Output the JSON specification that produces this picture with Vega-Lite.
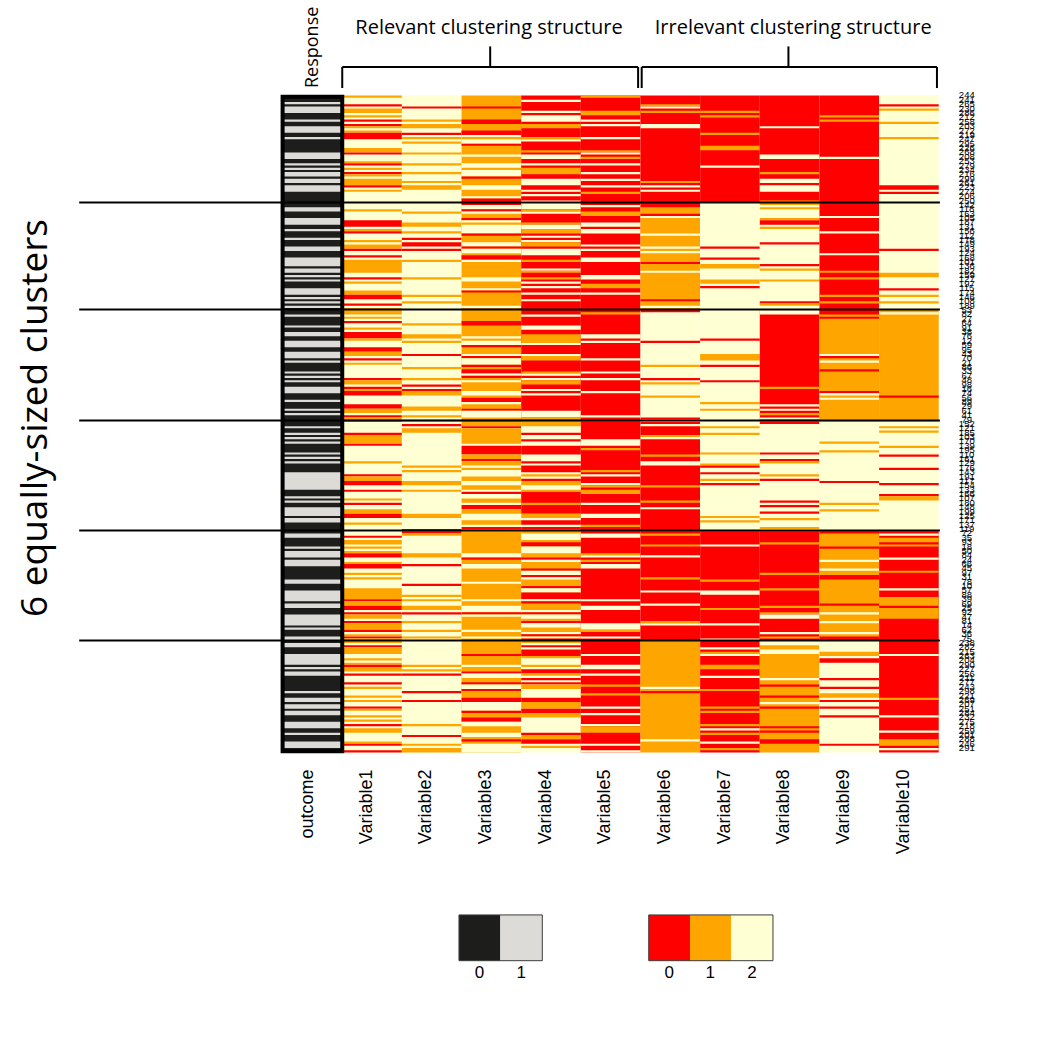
{"$schema":"https://vega.github.io/schema/vega-lite/v6.json","width":1038,"height":1038,"padding":0,"autosize":{"type":"fit","contains":"padding"},"background":"white","config":{"view":{"stroke":null}},
"datasets":{
"cells":[
{"c":0,"d":1,"a":0,"b":300,"k":"a0"},
{"c":0,"d":1,"a":3,"b":4,"k":"a1"},{"c":0,"d":1,"a":5,"b":8,"k":"a1"},{"c":0,"d":1,"a":11,"b":12,"k":"a1"},{"c":0,"d":1,"a":14,"b":17,"k":"a1"},{"c":0,"d":1,"a":19,"b":20,"k":"a1"},{"c":0,"d":1,"a":26,"b":29,"k":"a1"},{"c":0,"d":1,"a":31,"b":32,"k":"a1"},{"c":0,"d":1,"a":33,"b":34,"k":"a1"},{"c":0,"d":1,"a":35,"b":37,"k":"a1"},{"c":0,"d":1,"a":38,"b":40,"k":"a1"},{"c":0,"d":1,"a":41,"b":44,"k":"a1"},
{"c":0,"d":1,"a":51,"b":53,"k":"a1"},{"c":0,"d":1,"a":56,"b":59,"k":"a1"},{"c":0,"d":1,"a":61,"b":62,"k":"a1"},{"c":0,"d":1,"a":65,"b":66,"k":"a1"},{"c":0,"d":1,"a":69,"b":71,"k":"a1"},{"c":0,"d":1,"a":74,"b":78,"k":"a1"},{"c":0,"d":1,"a":79,"b":81,"k":"a1"},{"c":0,"d":1,"a":82,"b":83,"k":"a1"},{"c":0,"d":1,"a":84,"b":85,"k":"a1"},{"c":0,"d":1,"a":88,"b":91,"k":"a1"},{"c":0,"d":1,"a":92,"b":93,"k":"a1"},{"c":0,"d":1,"a":94,"b":95,"k":"a1"},{"c":0,"d":1,"a":96,"b":97,"k":"a1"},
{"c":0,"d":1,"a":100,"b":101,"k":"a1"},{"c":0,"d":1,"a":105,"b":106,"k":"a1"},{"c":0,"d":1,"a":108,"b":110,"k":"a1"},{"c":0,"d":1,"a":112,"b":115,"k":"a1"},{"c":0,"d":1,"a":117,"b":119,"k":"a1"},{"c":0,"d":1,"a":119,"b":120,"k":"a1"},{"c":0,"d":1,"a":121,"b":122,"k":"a1"},{"c":0,"d":1,"a":126,"b":127,"k":"a1"},{"c":0,"d":1,"a":128,"b":129,"k":"a1"},{"c":0,"d":1,"a":130,"b":131,"k":"a1"},{"c":0,"d":1,"a":133,"b":136,"k":"a1"},{"c":0,"d":1,"a":139,"b":140,"k":"a1"},{"c":0,"d":1,"a":143,"b":144,"k":"a1"},{"c":0,"d":1,"a":145,"b":146,"k":"a1"},
{"c":0,"d":1,"a":151,"b":152,"k":"a1"},{"c":0,"d":1,"a":154,"b":155,"k":"a1"},{"c":0,"d":1,"a":156,"b":157,"k":"a1"},{"c":0,"d":1,"a":158,"b":159,"k":"a1"},{"c":0,"d":1,"a":163,"b":164,"k":"a1"},{"c":0,"d":1,"a":165,"b":166,"k":"a1"},{"c":0,"d":1,"a":167,"b":168,"k":"a1"},{"c":0,"d":1,"a":172,"b":180,"k":"a1"},{"c":0,"d":1,"a":183,"b":184,"k":"a1"},{"c":0,"d":1,"a":185,"b":186,"k":"a1"},{"c":0,"d":1,"a":188,"b":192,"k":"a1"},{"c":0,"d":1,"a":193,"b":195,"k":"a1"},
{"c":0,"d":1,"a":200,"b":202,"k":"a1"},{"c":0,"d":1,"a":206,"b":207,"k":"a1"},{"c":0,"d":1,"a":208,"b":211,"k":"a1"},{"c":0,"d":1,"a":212,"b":215,"k":"a1"},{"c":0,"d":1,"a":221,"b":223,"k":"a1"},{"c":0,"d":1,"a":226,"b":231,"k":"a1"},{"c":0,"d":1,"a":232,"b":234,"k":"a1"},{"c":0,"d":1,"a":237,"b":242,"k":"a1"},{"c":0,"d":1,"a":243,"b":244,"k":"a1"},{"c":0,"d":1,"a":247,"b":249,"k":"a1"},
{"c":0,"d":1,"a":250,"b":252,"k":"a1"},{"c":0,"d":1,"a":255,"b":260,"k":"a1"},{"c":0,"d":1,"a":261,"b":262,"k":"a1"},{"c":0,"d":1,"a":263,"b":265,"k":"a1"},{"c":0,"d":1,"a":272,"b":273,"k":"a1"},{"c":0,"d":1,"a":275,"b":277,"k":"a1"},{"c":0,"d":1,"a":278,"b":280,"k":"a1"},{"c":0,"d":1,"a":281,"b":283,"k":"a1"},{"c":0,"d":1,"a":286,"b":289,"k":"a1"},{"c":0,"d":1,"a":291,"b":292,"k":"a1"},{"c":0,"d":1,"a":295,"b":298,"k":"a1"},

{"c":1,"d":2,"a":0,"b":49,"k":"2"},{"c":1,"d":2,"a":0,"b":1,"k":"1"},{"c":1,"d":2,"a":4,"b":5,"k":"0"},{"c":1,"d":2,"a":6,"b":8,"k":"1"},{"c":1,"d":2,"a":9,"b":10,"k":"1"},{"c":1,"d":2,"a":11,"b":12,"k":"0"},{"c":1,"d":2,"a":13,"b":14,"k":"0"},{"c":1,"d":2,"a":14,"b":15,"k":"1"},{"c":1,"d":2,"a":16,"b":17,"k":"1"},{"c":1,"d":2,"a":17,"b":20,"k":"0"},{"c":1,"d":2,"a":24,"b":26,"k":"1"},{"c":1,"d":2,"a":26,"b":27,"k":"0"},{"c":1,"d":2,"a":30,"b":31,"k":"1"},{"c":1,"d":2,"a":31,"b":32,"k":"0"},{"c":1,"d":2,"a":33,"b":34,"k":"1"},{"c":1,"d":2,"a":35,"b":36,"k":"0"},{"c":1,"d":2,"a":36,"b":37,"k":"1"},{"c":1,"d":2,"a":38,"b":41,"k":"1"},{"c":1,"d":2,"a":41,"b":42,"k":"0"},{"c":1,"d":2,"a":43,"b":44,"k":"1"},
{"c":2,"d":3,"a":0,"b":49,"k":"2"},{"c":2,"d":3,"a":5,"b":6,"k":"0"},{"c":2,"d":3,"a":11,"b":12,"k":"1"},{"c":2,"d":3,"a":13,"b":15,"k":"1"},{"c":2,"d":3,"a":17,"b":18,"k":"0"},{"c":2,"d":3,"a":19,"b":20,"k":"1"},{"c":2,"d":3,"a":21,"b":22,"k":"1"},{"c":2,"d":3,"a":26,"b":27,"k":"1"},{"c":2,"d":3,"a":31,"b":32,"k":"1"},{"c":2,"d":3,"a":35,"b":36,"k":"1"},{"c":2,"d":3,"a":39,"b":40,"k":"1"},{"c":2,"d":3,"a":41,"b":43,"k":"1"},
{"c":3,"d":4,"a":0,"b":49,"k":"1"},{"c":3,"d":4,"a":5,"b":6,"k":"0"},{"c":3,"d":4,"a":11,"b":13,"k":"0"},{"c":3,"d":4,"a":16,"b":18,"k":"0"},{"c":3,"d":4,"a":18,"b":19,"k":"2"},{"c":3,"d":4,"a":20,"b":22,"k":"2"},{"c":3,"d":4,"a":22,"b":23,"k":"0"},{"c":3,"d":4,"a":27,"b":28,"k":"2"},{"c":3,"d":4,"a":31,"b":33,"k":"2"},{"c":3,"d":4,"a":34,"b":37,"k":"2"},{"c":3,"d":4,"a":37,"b":38,"k":"0"},{"c":3,"d":4,"a":41,"b":43,"k":"2"},{"c":3,"d":4,"a":46,"b":47,"k":"2"},{"c":3,"d":4,"a":47,"b":49,"k":"0"},
{"c":4,"d":5,"a":0,"b":49,"k":"0"},{"c":4,"d":5,"a":2,"b":3,"k":"2"},{"c":4,"d":5,"a":7,"b":8,"k":"2"},{"c":4,"d":5,"a":9,"b":12,"k":"2"},{"c":4,"d":5,"a":13,"b":15,"k":"1"},{"c":4,"d":5,"a":19,"b":20,"k":"1"},{"c":4,"d":5,"a":20,"b":21,"k":"2"},{"c":4,"d":5,"a":25,"b":26,"k":"1"},{"c":4,"d":5,"a":27,"b":29,"k":"2"},{"c":4,"d":5,"a":31,"b":32,"k":"2"},{"c":4,"d":5,"a":33,"b":36,"k":"1"},{"c":4,"d":5,"a":38,"b":41,"k":"2"},{"c":4,"d":5,"a":43,"b":44,"k":"2"},{"c":4,"d":5,"a":45,"b":46,"k":"2"},{"c":4,"d":5,"a":48,"b":49,"k":"2"},
{"c":5,"d":6,"a":0,"b":49,"k":"0"},{"c":5,"d":6,"a":0,"b":1,"k":"1"},{"c":5,"d":6,"a":7,"b":9,"k":"1"},{"c":5,"d":6,"a":11,"b":12,"k":"2"},{"c":5,"d":6,"a":13,"b":14,"k":"2"},{"c":5,"d":6,"a":19,"b":20,"k":"2"},{"c":5,"d":6,"a":25,"b":26,"k":"1"},{"c":5,"d":6,"a":26,"b":27,"k":"2"},{"c":5,"d":6,"a":28,"b":29,"k":"1"},{"c":5,"d":6,"a":31,"b":32,"k":"2"},{"c":5,"d":6,"a":35,"b":36,"k":"2"},{"c":5,"d":6,"a":38,"b":39,"k":"2"},{"c":5,"d":6,"a":41,"b":42,"k":"2"},{"c":5,"d":6,"a":44,"b":45,"k":"1"},
{"c":6,"d":7,"a":0,"b":49,"k":"0"},{"c":6,"d":7,"a":4,"b":5,"k":"1"},{"c":6,"d":7,"a":5,"b":6,"k":"2"},{"c":6,"d":7,"a":7,"b":8,"k":"1"},{"c":6,"d":7,"a":13,"b":15,"k":"2"},{"c":6,"d":7,"a":39,"b":40,"k":"1"},{"c":6,"d":7,"a":41,"b":42,"k":"2"},{"c":6,"d":7,"a":43,"b":44,"k":"2"},
{"c":7,"d":8,"a":0,"b":49,"k":"0"},{"c":7,"d":8,"a":7,"b":8,"k":"1"},{"c":7,"d":8,"a":9,"b":10,"k":"1"},{"c":7,"d":8,"a":17,"b":18,"k":"1"},{"c":7,"d":8,"a":23,"b":25,"k":"1"},{"c":7,"d":8,"a":32,"b":33,"k":"2"},
{"c":8,"d":9,"a":0,"b":49,"k":"0"},{"c":8,"d":9,"a":14,"b":15,"k":"2"},{"c":8,"d":9,"a":27,"b":29,"k":"2"},{"c":8,"d":9,"a":35,"b":36,"k":"1"},{"c":8,"d":9,"a":38,"b":40,"k":"2"},{"c":8,"d":9,"a":41,"b":44,"k":"2"},{"c":8,"d":9,"a":48,"b":49,"k":"1"},
{"c":9,"d":10,"a":0,"b":49,"k":"0"},{"c":9,"d":10,"a":9,"b":10,"k":"1"},{"c":9,"d":10,"a":11,"b":12,"k":"1"},{"c":9,"d":10,"a":28,"b":29,"k":"2"},
{"c":10,"d":11,"a":0,"b":49,"k":"2"},{"c":10,"d":11,"a":4,"b":5,"k":"0"},{"c":10,"d":11,"a":6,"b":7,"k":"1"},{"c":10,"d":11,"a":12,"b":13,"k":"1"},{"c":10,"d":11,"a":19,"b":20,"k":"1"},{"c":10,"d":11,"a":41,"b":43,"k":"0"},{"c":10,"d":11,"a":44,"b":45,"k":"0"},

{"c":1,"d":2,"a":49,"b":98,"k":"2"},{"c":1,"d":2,"a":52,"b":53,"k":"1"},{"c":1,"d":2,"a":57,"b":60,"k":"0"},{"c":1,"d":2,"a":61,"b":62,"k":"1"},{"c":1,"d":2,"a":62,"b":63,"k":"0"},{"c":1,"d":2,"a":66,"b":67,"k":"1"},{"c":1,"d":2,"a":68,"b":70,"k":"1"},{"c":1,"d":2,"a":70,"b":71,"k":"0"},{"c":1,"d":2,"a":73,"b":74,"k":"0"},{"c":1,"d":2,"a":75,"b":81,"k":"1"},{"c":1,"d":2,"a":83,"b":84,"k":"0"},{"c":1,"d":2,"a":85,"b":86,"k":"1"},{"c":1,"d":2,"a":89,"b":91,"k":"1"},{"c":1,"d":2,"a":91,"b":93,"k":"0"},{"c":1,"d":2,"a":95,"b":96,"k":"0"},{"c":1,"d":2,"a":97,"b":98,"k":"1"},
{"c":2,"d":3,"a":49,"b":98,"k":"2"},{"c":2,"d":3,"a":53,"b":54,"k":"1"},{"c":2,"d":3,"a":58,"b":60,"k":"1"},{"c":2,"d":3,"a":62,"b":63,"k":"1"},{"c":2,"d":3,"a":65,"b":66,"k":"0"},{"c":2,"d":3,"a":67,"b":69,"k":"0"},{"c":2,"d":3,"a":70,"b":71,"k":"0"},{"c":2,"d":3,"a":75,"b":76,"k":"1"},{"c":2,"d":3,"a":83,"b":84,"k":"1"},{"c":2,"d":3,"a":91,"b":92,"k":"1"},{"c":2,"d":3,"a":94,"b":95,"k":"1"},
{"c":3,"d":4,"a":49,"b":98,"k":"1"},{"c":3,"d":4,"a":49,"b":50,"k":"0"},{"c":3,"d":4,"a":50,"b":52,"k":"2"},{"c":3,"d":4,"a":52,"b":53,"k":"0"},{"c":3,"d":4,"a":53,"b":54,"k":"2"},{"c":3,"d":4,"a":56,"b":57,"k":"0"},{"c":3,"d":4,"a":57,"b":58,"k":"2"},{"c":3,"d":4,"a":59,"b":63,"k":"2"},{"c":3,"d":4,"a":63,"b":64,"k":"0"},{"c":3,"d":4,"a":67,"b":69,"k":"2"},{"c":3,"d":4,"a":69,"b":70,"k":"0"},{"c":3,"d":4,"a":70,"b":72,"k":"2"},{"c":3,"d":4,"a":73,"b":75,"k":"0"},{"c":3,"d":4,"a":75,"b":76,"k":"2"},{"c":3,"d":4,"a":83,"b":85,"k":"2"},{"c":3,"d":4,"a":88,"b":89,"k":"2"},{"c":3,"d":4,"a":89,"b":90,"k":"0"},{"c":3,"d":4,"a":96,"b":97,"k":"2"},
{"c":4,"d":5,"a":49,"b":98,"k":"0"},{"c":4,"d":5,"a":49,"b":52,"k":"2"},{"c":4,"d":5,"a":52,"b":53,"k":"1"},{"c":4,"d":5,"a":53,"b":54,"k":"2"},{"c":4,"d":5,"a":58,"b":59,"k":"1"},{"c":4,"d":5,"a":59,"b":61,"k":"2"},{"c":4,"d":5,"a":61,"b":63,"k":"1"},{"c":4,"d":5,"a":64,"b":65,"k":"2"},{"c":4,"d":5,"a":66,"b":67,"k":"2"},{"c":4,"d":5,"a":67,"b":69,"k":"1"},{"c":4,"d":5,"a":70,"b":73,"k":"2"},{"c":4,"d":5,"a":75,"b":76,"k":"1"},{"c":4,"d":5,"a":79,"b":80,"k":"2"},{"c":4,"d":5,"a":80,"b":81,"k":"1"},{"c":4,"d":5,"a":83,"b":84,"k":"1"},{"c":4,"d":5,"a":85,"b":86,"k":"2"},{"c":4,"d":5,"a":87,"b":88,"k":"2"},{"c":4,"d":5,"a":90,"b":91,"k":"2"},{"c":4,"d":5,"a":93,"b":94,"k":"2"},
{"c":5,"d":6,"a":49,"b":98,"k":"0"},{"c":5,"d":6,"a":50,"b":51,"k":"2"},{"c":5,"d":6,"a":53,"b":55,"k":"1"},{"c":5,"d":6,"a":58,"b":60,"k":"2"},{"c":5,"d":6,"a":61,"b":63,"k":"2"},{"c":5,"d":6,"a":68,"b":69,"k":"2"},{"c":5,"d":6,"a":70,"b":71,"k":"2"},{"c":5,"d":6,"a":74,"b":76,"k":"2"},{"c":5,"d":6,"a":82,"b":84,"k":"2"},{"c":5,"d":6,"a":86,"b":88,"k":"1"},{"c":5,"d":6,"a":90,"b":91,"k":"2"},
{"c":6,"d":7,"a":49,"b":98,"k":"1"},{"c":6,"d":7,"a":49,"b":51,"k":"0"},{"c":6,"d":7,"a":54,"b":55,"k":"0"},{"c":6,"d":7,"a":55,"b":56,"k":"2"},{"c":6,"d":7,"a":63,"b":64,"k":"2"},{"c":6,"d":7,"a":69,"b":70,"k":"2"},{"c":6,"d":7,"a":71,"b":72,"k":"2"},{"c":6,"d":7,"a":76,"b":77,"k":"0"},{"c":6,"d":7,"a":80,"b":81,"k":"2"},{"c":6,"d":7,"a":93,"b":94,"k":"0"},{"c":6,"d":7,"a":96,"b":97,"k":"2"},
{"c":7,"d":8,"a":49,"b":98,"k":"2"},{"c":7,"d":8,"a":69,"b":70,"k":"0"},{"c":7,"d":8,"a":74,"b":75,"k":"0"},{"c":7,"d":8,"a":77,"b":79,"k":"1"},{"c":7,"d":8,"a":84,"b":86,"k":"1"},{"c":7,"d":8,"a":87,"b":88,"k":"0"},
{"c":8,"d":9,"a":49,"b":98,"k":"2"},{"c":8,"d":9,"a":49,"b":50,"k":"1"},{"c":8,"d":9,"a":51,"b":52,"k":"1"},{"c":8,"d":9,"a":56,"b":57,"k":"1"},{"c":8,"d":9,"a":57,"b":59,"k":"0"},{"c":8,"d":9,"a":60,"b":61,"k":"1"},{"c":8,"d":9,"a":67,"b":68,"k":"0"},{"c":8,"d":9,"a":77,"b":78,"k":"0"},{"c":8,"d":9,"a":79,"b":80,"k":"1"},{"c":8,"d":9,"a":84,"b":85,"k":"1"},{"c":8,"d":9,"a":94,"b":95,"k":"0"},{"c":8,"d":9,"a":95,"b":96,"k":"1"},
{"c":9,"d":10,"a":49,"b":98,"k":"0"},{"c":9,"d":10,"a":55,"b":56,"k":"2"},{"c":9,"d":10,"a":62,"b":63,"k":"2"},{"c":9,"d":10,"a":72,"b":73,"k":"2"},{"c":9,"d":10,"a":80,"b":81,"k":"1"},{"c":9,"d":10,"a":83,"b":84,"k":"1"},{"c":9,"d":10,"a":91,"b":92,"k":"1"},{"c":9,"d":10,"a":94,"b":95,"k":"1"},
{"c":10,"d":11,"a":49,"b":98,"k":"2"},{"c":10,"d":11,"a":70,"b":71,"k":"0"},{"c":10,"d":11,"a":81,"b":83,"k":"1"},{"c":10,"d":11,"a":88,"b":89,"k":"0"},{"c":10,"d":11,"a":91,"b":92,"k":"1"},{"c":10,"d":11,"a":94,"b":95,"k":"1"},

{"c":1,"d":2,"a":98,"b":149,"k":"2"},{"c":1,"d":2,"a":98,"b":100,"k":"1"},{"c":1,"d":2,"a":101,"b":102,"k":"1"},{"c":1,"d":2,"a":103,"b":104,"k":"0"},{"c":1,"d":2,"a":106,"b":107,"k":"1"},{"c":1,"d":2,"a":108,"b":111,"k":"0"},{"c":1,"d":2,"a":111,"b":112,"k":"1"},{"c":1,"d":2,"a":115,"b":117,"k":"0"},{"c":1,"d":2,"a":117,"b":119,"k":"1"},{"c":1,"d":2,"a":120,"b":121,"k":"0"},{"c":1,"d":2,"a":122,"b":123,"k":"1"},{"c":1,"d":2,"a":129,"b":130,"k":"0"},{"c":1,"d":2,"a":130,"b":132,"k":"1"},{"c":1,"d":2,"a":133,"b":134,"k":"0"},{"c":1,"d":2,"a":134,"b":135,"k":"1"},{"c":1,"d":2,"a":135,"b":137,"k":"0"},{"c":1,"d":2,"a":141,"b":143,"k":"0"},{"c":1,"d":2,"a":143,"b":145,"k":"1"},{"c":1,"d":2,"a":146,"b":147,"k":"0"},{"c":1,"d":2,"a":147,"b":148,"k":"1"},{"c":1,"d":2,"a":148,"b":149,"k":"0"},
{"c":2,"d":3,"a":98,"b":149,"k":"2"},{"c":2,"d":3,"a":104,"b":105,"k":"1"},{"c":2,"d":3,"a":109,"b":111,"k":"1"},{"c":2,"d":3,"a":112,"b":113,"k":"1"},{"c":2,"d":3,"a":118,"b":119,"k":"0"},{"c":2,"d":3,"a":124,"b":125,"k":"1"},{"c":2,"d":3,"a":129,"b":130,"k":"1"},{"c":2,"d":3,"a":132,"b":133,"k":"0"},{"c":2,"d":3,"a":134,"b":135,"k":"0"},{"c":2,"d":3,"a":135,"b":137,"k":"1"},{"c":2,"d":3,"a":142,"b":144,"k":"1"},{"c":2,"d":3,"a":146,"b":147,"k":"1"},{"c":2,"d":3,"a":148,"b":149,"k":"1"},
{"c":3,"d":4,"a":98,"b":149,"k":"1"},{"c":3,"d":4,"a":103,"b":105,"k":"0"},{"c":3,"d":4,"a":110,"b":111,"k":"2"},{"c":3,"d":4,"a":112,"b":114,"k":"2"},{"c":3,"d":4,"a":114,"b":115,"k":"0"},{"c":3,"d":4,"a":118,"b":119,"k":"2"},{"c":3,"d":4,"a":119,"b":120,"k":"0"},{"c":3,"d":4,"a":120,"b":123,"k":"2"},{"c":3,"d":4,"a":123,"b":124,"k":"0"},{"c":3,"d":4,"a":125,"b":127,"k":"0"},{"c":3,"d":4,"a":127,"b":128,"k":"2"},{"c":3,"d":4,"a":128,"b":129,"k":"0"},{"c":3,"d":4,"a":130,"b":131,"k":"2"},{"c":3,"d":4,"a":135,"b":137,"k":"2"},{"c":3,"d":4,"a":138,"b":140,"k":"0"},{"c":3,"d":4,"a":140,"b":141,"k":"2"},{"c":3,"d":4,"a":143,"b":144,"k":"0"},{"c":3,"d":4,"a":144,"b":147,"k":"2"},{"c":3,"d":4,"a":148,"b":149,"k":"0"},
{"c":4,"d":5,"a":98,"b":149,"k":"0"},{"c":4,"d":5,"a":100,"b":101,"k":"2"},{"c":4,"d":5,"a":105,"b":107,"k":"2"},{"c":4,"d":5,"a":109,"b":113,"k":"1"},{"c":4,"d":5,"a":113,"b":114,"k":"2"},{"c":4,"d":5,"a":118,"b":119,"k":"2"},{"c":4,"d":5,"a":119,"b":121,"k":"1"},{"c":4,"d":5,"a":126,"b":127,"k":"1"},{"c":4,"d":5,"a":127,"b":128,"k":"2"},{"c":4,"d":5,"a":129,"b":130,"k":"2"},{"c":4,"d":5,"a":130,"b":132,"k":"1"},{"c":4,"d":5,"a":134,"b":135,"k":"2"},{"c":4,"d":5,"a":136,"b":137,"k":"2"},{"c":4,"d":5,"a":144,"b":147,"k":"2"},{"c":4,"d":5,"a":147,"b":148,"k":"1"},
{"c":5,"d":6,"a":98,"b":149,"k":"0"},{"c":5,"d":6,"a":99,"b":100,"k":"1"},{"c":5,"d":6,"a":109,"b":111,"k":"2"},{"c":5,"d":6,"a":112,"b":113,"k":"2"},{"c":5,"d":6,"a":120,"b":121,"k":"2"},{"c":5,"d":6,"a":126,"b":127,"k":"2"},{"c":5,"d":6,"a":129,"b":130,"k":"2"},{"c":5,"d":6,"a":135,"b":136,"k":"2"},{"c":5,"d":6,"a":146,"b":147,"k":"2"},
{"c":6,"d":7,"a":98,"b":149,"k":"2"},{"c":6,"d":7,"a":98,"b":99,"k":"0"},{"c":6,"d":7,"a":112,"b":113,"k":"0"},{"c":6,"d":7,"a":123,"b":124,"k":"1"},{"c":6,"d":7,"a":129,"b":130,"k":"0"},{"c":6,"d":7,"a":131,"b":132,"k":"1"},{"c":6,"d":7,"a":137,"b":138,"k":"1"},{"c":6,"d":7,"a":147,"b":148,"k":"0"},
{"c":7,"d":8,"a":98,"b":149,"k":"2"},{"c":7,"d":8,"a":111,"b":112,"k":"0"},{"c":7,"d":8,"a":118,"b":121,"k":"1"},{"c":7,"d":8,"a":123,"b":124,"k":"0"},{"c":7,"d":8,"a":130,"b":131,"k":"0"},{"c":7,"d":8,"a":140,"b":141,"k":"1"},{"c":7,"d":8,"a":143,"b":144,"k":"1"},
{"c":8,"d":9,"a":98,"b":149,"k":"0"},{"c":8,"d":9,"a":98,"b":100,"k":"2"},{"c":8,"d":9,"a":133,"b":134,"k":"1"},{"c":8,"d":9,"a":141,"b":142,"k":"2"},{"c":8,"d":9,"a":143,"b":144,"k":"2"},{"c":8,"d":9,"a":145,"b":146,"k":"1"},{"c":8,"d":9,"a":147,"b":148,"k":"2"},
{"c":9,"d":10,"a":98,"b":149,"k":"1"},{"c":9,"d":10,"a":98,"b":100,"k":"0"},{"c":9,"d":10,"a":101,"b":102,"k":"0"},{"c":9,"d":10,"a":118,"b":119,"k":"2"},{"c":9,"d":10,"a":119,"b":120,"k":"0"},{"c":9,"d":10,"a":121,"b":122,"k":"2"},{"c":9,"d":10,"a":125,"b":126,"k":"0"},{"c":9,"d":10,"a":135,"b":136,"k":"0"},{"c":9,"d":10,"a":136,"b":137,"k":"2"},{"c":9,"d":10,"a":138,"b":139,"k":"2"},
{"c":10,"d":11,"a":98,"b":149,"k":"1"},{"c":10,"d":11,"a":99,"b":100,"k":"2"},{"c":10,"d":11,"a":137,"b":138,"k":"0"},

{"c":1,"d":2,"a":149,"b":199,"k":"2"},{"c":1,"d":2,"a":154,"b":155,"k":"0"},{"c":1,"d":2,"a":155,"b":159,"k":"1"},{"c":1,"d":2,"a":159,"b":160,"k":"0"},{"c":1,"d":2,"a":167,"b":168,"k":"1"},{"c":1,"d":2,"a":173,"b":174,"k":"0"},{"c":1,"d":2,"a":174,"b":176,"k":"1"},{"c":1,"d":2,"a":176,"b":178,"k":"0"},{"c":1,"d":2,"a":180,"b":181,"k":"0"},{"c":1,"d":2,"a":184,"b":185,"k":"1"},{"c":1,"d":2,"a":186,"b":187,"k":"0"},{"c":1,"d":2,"a":189,"b":191,"k":"1"},{"c":1,"d":2,"a":191,"b":193,"k":"0"},{"c":1,"d":2,"a":195,"b":196,"k":"1"},
{"c":2,"d":3,"a":149,"b":199,"k":"2"},{"c":2,"d":3,"a":150,"b":151,"k":"0"},{"c":2,"d":3,"a":152,"b":154,"k":"1"},{"c":2,"d":3,"a":169,"b":170,"k":"1"},{"c":2,"d":3,"a":171,"b":172,"k":"1"},{"c":2,"d":3,"a":176,"b":178,"k":"1"},{"c":2,"d":3,"a":180,"b":181,"k":"1"},{"c":2,"d":3,"a":191,"b":193,"k":"1"},{"c":2,"d":3,"a":198,"b":199,"k":"0"},
{"c":3,"d":4,"a":149,"b":199,"k":"2"},{"c":3,"d":4,"a":149,"b":151,"k":"1"},{"c":3,"d":4,"a":151,"b":152,"k":"0"},{"c":3,"d":4,"a":152,"b":159,"k":"1"},{"c":3,"d":4,"a":160,"b":164,"k":"0"},{"c":3,"d":4,"a":164,"b":166,"k":"1"},{"c":3,"d":4,"a":166,"b":167,"k":"0"},{"c":3,"d":4,"a":167,"b":169,"k":"1"},{"c":3,"d":4,"a":170,"b":171,"k":"1"},{"c":3,"d":4,"a":174,"b":176,"k":"1"},{"c":3,"d":4,"a":178,"b":180,"k":"1"},{"c":3,"d":4,"a":181,"b":182,"k":"0"},{"c":3,"d":4,"a":184,"b":186,"k":"1"},{"c":3,"d":4,"a":187,"b":189,"k":"0"},{"c":3,"d":4,"a":189,"b":191,"k":"1"},{"c":3,"d":4,"a":194,"b":196,"k":"1"},{"c":3,"d":4,"a":197,"b":198,"k":"0"},{"c":3,"d":4,"a":198,"b":199,"k":"1"},
{"c":4,"d":5,"a":149,"b":199,"k":"2"},{"c":4,"d":5,"a":149,"b":151,"k":"1"},{"c":4,"d":5,"a":154,"b":155,"k":"0"},{"c":4,"d":5,"a":157,"b":158,"k":"0"},{"c":4,"d":5,"a":160,"b":164,"k":"0"},{"c":4,"d":5,"a":167,"b":168,"k":"0"},{"c":4,"d":5,"a":169,"b":172,"k":"0"},{"c":4,"d":5,"a":173,"b":174,"k":"1"},{"c":4,"d":5,"a":175,"b":176,"k":"0"},{"c":4,"d":5,"a":176,"b":178,"k":"1"},{"c":4,"d":5,"a":180,"b":181,"k":"1"},{"c":4,"d":5,"a":181,"b":191,"k":"0"},{"c":4,"d":5,"a":186,"b":187,"k":"1"},{"c":4,"d":5,"a":191,"b":193,"k":"1"},{"c":4,"d":5,"a":194,"b":196,"k":"0"},{"c":4,"d":5,"a":197,"b":199,"k":"0"},{"c":4,"d":5,"a":198,"b":199,"k":"1"},
{"c":5,"d":6,"a":149,"b":199,"k":"0"},{"c":5,"d":6,"a":157,"b":160,"k":"2"},{"c":5,"d":6,"a":161,"b":162,"k":"1"},{"c":5,"d":6,"a":171,"b":172,"k":"1"},{"c":5,"d":6,"a":173,"b":174,"k":"2"},{"c":5,"d":6,"a":177,"b":178,"k":"2"},{"c":5,"d":6,"a":178,"b":179,"k":"1"},{"c":5,"d":6,"a":180,"b":182,"k":"1"},{"c":5,"d":6,"a":186,"b":187,"k":"2"},{"c":5,"d":6,"a":191,"b":193,"k":"2"},{"c":5,"d":6,"a":196,"b":197,"k":"1"},
{"c":6,"d":7,"a":149,"b":199,"k":"0"},{"c":6,"d":7,"a":150,"b":151,"k":"2"},{"c":6,"d":7,"a":155,"b":156,"k":"1"},{"c":6,"d":7,"a":156,"b":157,"k":"2"},{"c":6,"d":7,"a":164,"b":165,"k":"1"},{"c":6,"d":7,"a":167,"b":169,"k":"2"},{"c":6,"d":7,"a":178,"b":179,"k":"1"},{"c":6,"d":7,"a":185,"b":186,"k":"1"},{"c":6,"d":7,"a":188,"b":189,"k":"2"},
{"c":7,"d":8,"a":149,"b":199,"k":"2"},{"c":7,"d":8,"a":151,"b":152,"k":"1"},{"c":7,"d":8,"a":154,"b":155,"k":"1"},{"c":7,"d":8,"a":163,"b":164,"k":"1"},{"c":7,"d":8,"a":168,"b":169,"k":"1"},{"c":7,"d":8,"a":169,"b":170,"k":"0"},{"c":7,"d":8,"a":172,"b":173,"k":"0"},{"c":7,"d":8,"a":175,"b":176,"k":"1"},{"c":7,"d":8,"a":177,"b":178,"k":"0"},{"c":7,"d":8,"a":192,"b":193,"k":"1"},{"c":7,"d":8,"a":194,"b":195,"k":"1"},
{"c":8,"d":9,"a":149,"b":199,"k":"2"},{"c":8,"d":9,"a":149,"b":150,"k":"0"},{"c":8,"d":9,"a":163,"b":164,"k":"0"},{"c":8,"d":9,"a":166,"b":167,"k":"0"},{"c":8,"d":9,"a":167,"b":168,"k":"1"},{"c":8,"d":9,"a":173,"b":174,"k":"1"},{"c":8,"d":9,"a":175,"b":176,"k":"0"},{"c":8,"d":9,"a":185,"b":186,"k":"0"},{"c":8,"d":9,"a":187,"b":188,"k":"0"},{"c":8,"d":9,"a":190,"b":191,"k":"0"},{"c":8,"d":9,"a":193,"b":194,"k":"1"},{"c":8,"d":9,"a":197,"b":198,"k":"1"},
{"c":9,"d":10,"a":149,"b":199,"k":"2"},{"c":9,"d":10,"a":158,"b":159,"k":"1"},{"c":9,"d":10,"a":162,"b":163,"k":"1"},{"c":9,"d":10,"a":176,"b":177,"k":"0"},{"c":9,"d":10,"a":186,"b":187,"k":"1"},{"c":9,"d":10,"a":189,"b":190,"k":"1"},
{"c":10,"d":11,"a":149,"b":199,"k":"2"},{"c":10,"d":11,"a":151,"b":152,"k":"1"},{"c":10,"d":11,"a":153,"b":154,"k":"1"},{"c":10,"d":11,"a":160,"b":161,"k":"1"},{"c":10,"d":11,"a":164,"b":165,"k":"0"},{"c":10,"d":11,"a":170,"b":171,"k":"0"},{"c":10,"d":11,"a":177,"b":178,"k":"0"},{"c":10,"d":11,"a":182,"b":183,"k":"0"},{"c":10,"d":11,"a":183,"b":185,"k":"1"},

{"c":1,"d":2,"a":199,"b":249,"k":"2"},{"c":1,"d":2,"a":201,"b":202,"k":"0"},{"c":1,"d":2,"a":203,"b":205,"k":"1"},{"c":1,"d":2,"a":206,"b":207,"k":"1"},{"c":1,"d":2,"a":208,"b":209,"k":"1"},{"c":1,"d":2,"a":209,"b":211,"k":"0"},{"c":1,"d":2,"a":213,"b":214,"k":"1"},{"c":1,"d":2,"a":214,"b":216,"k":"0"},{"c":1,"d":2,"a":218,"b":219,"k":"1"},{"c":1,"d":2,"a":220,"b":221,"k":"1"},{"c":1,"d":2,"a":225,"b":230,"k":"1"},{"c":1,"d":2,"a":230,"b":231,"k":"0"},{"c":1,"d":2,"a":231,"b":233,"k":"1"},{"c":1,"d":2,"a":233,"b":235,"k":"0"},{"c":1,"d":2,"a":236,"b":237,"k":"0"},{"c":1,"d":2,"a":237,"b":239,"k":"1"},{"c":1,"d":2,"a":240,"b":241,"k":"0"},{"c":1,"d":2,"a":241,"b":244,"k":"1"},{"c":1,"d":2,"a":244,"b":245,"k":"0"},{"c":1,"d":2,"a":246,"b":247,"k":"1"},{"c":1,"d":2,"a":247,"b":248,"k":"0"},{"c":1,"d":2,"a":248,"b":249,"k":"1"},
{"c":2,"d":3,"a":199,"b":249,"k":"2"},{"c":2,"d":3,"a":199,"b":200,"k":"0"},{"c":2,"d":3,"a":200,"b":201,"k":"1"},{"c":2,"d":3,"a":209,"b":211,"k":"1"},{"c":2,"d":3,"a":214,"b":215,"k":"0"},{"c":2,"d":3,"a":223,"b":224,"k":"0"},{"c":2,"d":3,"a":228,"b":229,"k":"1"},{"c":2,"d":3,"a":230,"b":231,"k":"1"},{"c":2,"d":3,"a":233,"b":235,"k":"1"},{"c":2,"d":3,"a":236,"b":237,"k":"0"},{"c":2,"d":3,"a":240,"b":241,"k":"1"},{"c":2,"d":3,"a":244,"b":245,"k":"1"},{"c":2,"d":3,"a":247,"b":248,"k":"1"},
{"c":3,"d":4,"a":199,"b":249,"k":"1"},{"c":3,"d":4,"a":209,"b":211,"k":"2"},{"c":3,"d":4,"a":211,"b":212,"k":"0"},{"c":3,"d":4,"a":214,"b":216,"k":"2"},{"c":3,"d":4,"a":222,"b":223,"k":"2"},{"c":3,"d":4,"a":230,"b":231,"k":"2"},{"c":3,"d":4,"a":233,"b":236,"k":"2"},{"c":3,"d":4,"a":236,"b":237,"k":"0"},{"c":3,"d":4,"a":237,"b":238,"k":"2"},{"c":3,"d":4,"a":244,"b":245,"k":"2"},{"c":3,"d":4,"a":247,"b":248,"k":"2"},
{"c":4,"d":5,"a":199,"b":249,"k":"1"},{"c":4,"d":5,"a":200,"b":203,"k":"2"},{"c":4,"d":5,"a":204,"b":206,"k":"0"},{"c":4,"d":5,"a":206,"b":209,"k":"2"},{"c":4,"d":5,"a":211,"b":212,"k":"0"},{"c":4,"d":5,"a":212,"b":213,"k":"2"},{"c":4,"d":5,"a":216,"b":217,"k":"0"},{"c":4,"d":5,"a":217,"b":219,"k":"2"},{"c":4,"d":5,"a":219,"b":220,"k":"0"},{"c":4,"d":5,"a":220,"b":221,"k":"2"},{"c":4,"d":5,"a":224,"b":225,"k":"0"},{"c":4,"d":5,"a":225,"b":227,"k":"2"},{"c":4,"d":5,"a":227,"b":230,"k":"0"},{"c":4,"d":5,"a":230,"b":231,"k":"2"},{"c":4,"d":5,"a":231,"b":232,"k":"0"},{"c":4,"d":5,"a":235,"b":236,"k":"2"},{"c":4,"d":5,"a":236,"b":237,"k":"0"},{"c":4,"d":5,"a":237,"b":239,"k":"2"},{"c":4,"d":5,"a":240,"b":241,"k":"0"},{"c":4,"d":5,"a":241,"b":243,"k":"2"},{"c":4,"d":5,"a":245,"b":246,"k":"2"},{"c":4,"d":5,"a":246,"b":247,"k":"0"},{"c":4,"d":5,"a":247,"b":248,"k":"2"},{"c":4,"d":5,"a":248,"b":249,"k":"0"},
{"c":5,"d":6,"a":199,"b":249,"k":"0"},{"c":5,"d":6,"a":200,"b":202,"k":"2"},{"c":5,"d":6,"a":209,"b":210,"k":"1"},{"c":5,"d":6,"a":210,"b":211,"k":"2"},{"c":5,"d":6,"a":212,"b":213,"k":"1"},{"c":5,"d":6,"a":214,"b":216,"k":"2"},{"c":5,"d":6,"a":230,"b":231,"k":"2"},{"c":5,"d":6,"a":233,"b":235,"k":"2"},{"c":5,"d":6,"a":241,"b":244,"k":"2"},{"c":5,"d":6,"a":244,"b":245,"k":"1"},{"c":5,"d":6,"a":247,"b":248,"k":"2"},
{"c":6,"d":7,"a":199,"b":249,"k":"0"},{"c":6,"d":7,"a":200,"b":201,"k":"1"},{"c":6,"d":7,"a":205,"b":206,"k":"1"},{"c":6,"d":7,"a":210,"b":211,"k":"2"},{"c":6,"d":7,"a":220,"b":221,"k":"1"},{"c":6,"d":7,"a":226,"b":227,"k":"2"},{"c":6,"d":7,"a":232,"b":233,"k":"2"},{"c":6,"d":7,"a":240,"b":241,"k":"1"},{"c":6,"d":7,"a":241,"b":242,"k":"2"},
{"c":7,"d":8,"a":199,"b":249,"k":"0"},{"c":7,"d":8,"a":205,"b":206,"k":"2"},{"c":7,"d":8,"a":221,"b":222,"k":"1"},{"c":7,"d":8,"a":226,"b":228,"k":"2"},{"c":7,"d":8,"a":234,"b":235,"k":"1"},{"c":7,"d":8,"a":241,"b":242,"k":"2"},{"c":7,"d":8,"a":248,"b":249,"k":"2"},
{"c":8,"d":9,"a":199,"b":249,"k":"0"},{"c":8,"d":9,"a":204,"b":205,"k":"1"},{"c":8,"d":9,"a":218,"b":219,"k":"1"},{"c":8,"d":9,"a":225,"b":226,"k":"1"},{"c":8,"d":9,"a":233,"b":234,"k":"1"},{"c":8,"d":9,"a":236,"b":237,"k":"1"},{"c":8,"d":9,"a":237,"b":239,"k":"2"},{"c":8,"d":9,"a":245,"b":246,"k":"2"},{"c":8,"d":9,"a":247,"b":248,"k":"1"},
{"c":9,"d":10,"a":199,"b":249,"k":"1"},{"c":9,"d":10,"a":199,"b":200,"k":"0"},{"c":9,"d":10,"a":206,"b":207,"k":"0"},{"c":9,"d":10,"a":212,"b":213,"k":"2"},{"c":9,"d":10,"a":216,"b":217,"k":"2"},{"c":9,"d":10,"a":219,"b":221,"k":"0"},{"c":9,"d":10,"a":232,"b":233,"k":"0"},{"c":9,"d":10,"a":236,"b":237,"k":"2"},{"c":9,"d":10,"a":240,"b":241,"k":"2"},{"c":9,"d":10,"a":245,"b":246,"k":"2"},{"c":9,"d":10,"a":247,"b":249,"k":"0"},
{"c":10,"d":11,"a":199,"b":249,"k":"0"},{"c":10,"d":11,"a":200,"b":201,"k":"2"},{"c":10,"d":11,"a":202,"b":204,"k":"1"},{"c":10,"d":11,"a":205,"b":206,"k":"1"},{"c":10,"d":11,"a":211,"b":212,"k":"2"},{"c":10,"d":11,"a":217,"b":218,"k":"1"},{"c":10,"d":11,"a":225,"b":226,"k":"2"},{"c":10,"d":11,"a":229,"b":233,"k":"1"},{"c":10,"d":11,"a":234,"b":239,"k":"1"},

{"c":1,"d":2,"a":249,"b":300,"k":"2"},{"c":1,"d":2,"a":249,"b":250,"k":"1"},{"c":1,"d":2,"a":251,"b":252,"k":"0"},{"c":1,"d":2,"a":252,"b":255,"k":"1"},{"c":1,"d":2,"a":257,"b":258,"k":"1"},{"c":1,"d":2,"a":259,"b":260,"k":"1"},{"c":1,"d":2,"a":260,"b":261,"k":"0"},{"c":1,"d":2,"a":261,"b":263,"k":"1"},{"c":1,"d":2,"a":264,"b":265,"k":"0"},{"c":1,"d":2,"a":268,"b":269,"k":"0"},{"c":1,"d":2,"a":270,"b":271,"k":"1"},{"c":1,"d":2,"a":274,"b":275,"k":"1"},{"c":1,"d":2,"a":276,"b":277,"k":"1"},{"c":1,"d":2,"a":279,"b":280,"k":"0"},{"c":1,"d":2,"a":280,"b":281,"k":"1"},{"c":1,"d":2,"a":283,"b":284,"k":"1"},{"c":1,"d":2,"a":285,"b":286,"k":"1"},{"c":1,"d":2,"a":287,"b":288,"k":"0"},{"c":1,"d":2,"a":289,"b":291,"k":"1"},{"c":1,"d":2,"a":295,"b":296,"k":"1"},{"c":1,"d":2,"a":296,"b":297,"k":"0"},{"c":1,"d":2,"a":299,"b":300,"k":"0"},
{"c":2,"d":3,"a":249,"b":300,"k":"2"},{"c":2,"d":3,"a":260,"b":261,"k":"1"},{"c":2,"d":3,"a":262,"b":263,"k":"1"},{"c":2,"d":3,"a":264,"b":265,"k":"0"},{"c":2,"d":3,"a":272,"b":273,"k":"0"},{"c":2,"d":3,"a":276,"b":277,"k":"0"},{"c":2,"d":3,"a":287,"b":288,"k":"1"},{"c":2,"d":3,"a":292,"b":293,"k":"0"},{"c":2,"d":3,"a":296,"b":297,"k":"1"},{"c":2,"d":3,"a":298,"b":300,"k":"1"},
{"c":3,"d":4,"a":249,"b":300,"k":"1"},{"c":3,"d":4,"a":255,"b":256,"k":"0"},{"c":3,"d":4,"a":260,"b":261,"k":"2"},{"c":3,"d":4,"a":263,"b":264,"k":"0"},{"c":3,"d":4,"a":264,"b":266,"k":"2"},{"c":3,"d":4,"a":268,"b":269,"k":"0"},{"c":3,"d":4,"a":269,"b":271,"k":"2"},{"c":3,"d":4,"a":271,"b":272,"k":"0"},{"c":3,"d":4,"a":275,"b":277,"k":"0"},{"c":3,"d":4,"a":277,"b":281,"k":"2"},{"c":3,"d":4,"a":281,"b":282,"k":"0"},{"c":3,"d":4,"a":284,"b":286,"k":"0"},{"c":3,"d":4,"a":286,"b":288,"k":"2"},{"c":3,"d":4,"a":291,"b":293,"k":"2"},{"c":3,"d":4,"a":294,"b":295,"k":"0"},{"c":3,"d":4,"a":296,"b":298,"k":"2"},{"c":3,"d":4,"a":298,"b":300,"k":"2"},
{"c":4,"d":5,"a":249,"b":300,"k":"2"},{"c":4,"d":5,"a":249,"b":250,"k":"1"},{"c":4,"d":5,"a":251,"b":252,"k":"0"},{"c":4,"d":5,"a":253,"b":256,"k":"0"},{"c":4,"d":5,"a":256,"b":257,"k":"1"},{"c":4,"d":5,"a":260,"b":261,"k":"1"},{"c":4,"d":5,"a":262,"b":264,"k":"0"},{"c":4,"d":5,"a":264,"b":265,"k":"1"},{"c":4,"d":5,"a":266,"b":267,"k":"0"},{"c":4,"d":5,"a":268,"b":269,"k":"0"},{"c":4,"d":5,"a":269,"b":271,"k":"1"},{"c":4,"d":5,"a":275,"b":277,"k":"0"},{"c":4,"d":5,"a":277,"b":280,"k":"1"},{"c":4,"d":5,"a":280,"b":282,"k":"0"},{"c":4,"d":5,"a":282,"b":284,"k":"1"},{"c":4,"d":5,"a":291,"b":292,"k":"0"},{"c":4,"d":5,"a":292,"b":294,"k":"1"},{"c":4,"d":5,"a":294,"b":296,"k":"0"},{"c":4,"d":5,"a":297,"b":298,"k":"1"},
{"c":5,"d":6,"a":249,"b":300,"k":"0"},{"c":5,"d":6,"a":255,"b":256,"k":"2"},{"c":5,"d":6,"a":260,"b":262,"k":"2"},{"c":5,"d":6,"a":264,"b":265,"k":"2"},{"c":5,"d":6,"a":269,"b":270,"k":"1"},{"c":5,"d":6,"a":273,"b":274,"k":"1"},{"c":5,"d":6,"a":279,"b":280,"k":"2"},{"c":5,"d":6,"a":282,"b":283,"k":"2"},{"c":5,"d":6,"a":287,"b":288,"k":"2"},{"c":5,"d":6,"a":288,"b":291,"k":"1"},{"c":5,"d":6,"a":296,"b":297,"k":"2"},{"c":5,"d":6,"a":299,"b":300,"k":"2"},
{"c":6,"d":7,"a":249,"b":300,"k":"1"},{"c":6,"d":7,"a":270,"b":271,"k":"2"},{"c":6,"d":7,"a":272,"b":273,"k":"0"},{"c":6,"d":7,"a":294,"b":295,"k":"2"},
{"c":7,"d":8,"a":249,"b":300,"k":"0"},{"c":7,"d":8,"a":252,"b":253,"k":"2"},{"c":7,"d":8,"a":254,"b":255,"k":"1"},{"c":7,"d":8,"a":255,"b":256,"k":"2"},{"c":7,"d":8,"a":260,"b":262,"k":"1"},{"c":7,"d":8,"a":265,"b":266,"k":"2"},{"c":7,"d":8,"a":271,"b":272,"k":"1"},{"c":7,"d":8,"a":279,"b":280,"k":"1"},{"c":7,"d":8,"a":281,"b":282,"k":"1"},{"c":7,"d":8,"a":287,"b":288,"k":"1"},{"c":7,"d":8,"a":289,"b":290,"k":"2"},{"c":7,"d":8,"a":291,"b":292,"k":"1"},{"c":7,"d":8,"a":295,"b":296,"k":"2"},{"c":7,"d":8,"a":298,"b":299,"k":"1"},
{"c":8,"d":9,"a":249,"b":300,"k":"1"},{"c":8,"d":9,"a":249,"b":251,"k":"2"},{"c":8,"d":9,"a":253,"b":255,"k":"2"},{"c":8,"d":9,"a":266,"b":267,"k":"2"},{"c":8,"d":9,"a":269,"b":270,"k":"0"},{"c":8,"d":9,"a":274,"b":275,"k":"0"},{"c":8,"d":9,"a":277,"b":278,"k":"2"},{"c":8,"d":9,"a":279,"b":280,"k":"0"},{"c":8,"d":9,"a":288,"b":289,"k":"0"},{"c":8,"d":9,"a":290,"b":291,"k":"0"},{"c":8,"d":9,"a":294,"b":296,"k":"0"},
{"c":9,"d":10,"a":249,"b":300,"k":"2"},{"c":9,"d":10,"a":254,"b":256,"k":"1"},{"c":9,"d":10,"a":257,"b":259,"k":"0"},{"c":9,"d":10,"a":266,"b":267,"k":"0"},{"c":9,"d":10,"a":270,"b":271,"k":"0"},{"c":9,"d":10,"a":273,"b":275,"k":"1"},{"c":9,"d":10,"a":276,"b":277,"k":"0"},{"c":9,"d":10,"a":279,"b":280,"k":"0"},{"c":9,"d":10,"a":283,"b":284,"k":"0"},{"c":9,"d":10,"a":296,"b":297,"k":"0"},
{"c":10,"d":11,"a":249,"b":300,"k":"0"},{"c":10,"d":11,"a":255,"b":256,"k":"2"},{"c":10,"d":11,"a":275,"b":276,"k":"1"},{"c":10,"d":11,"a":283,"b":284,"k":"2"},{"c":10,"d":11,"a":290,"b":291,"k":"2"},{"c":10,"d":11,"a":294,"b":297,"k":"1"},{"c":10,"d":11,"a":298,"b":299,"k":"2"}
],
"lines":[
{"x":-3.41,"x2":11.02,"y":48.9,"y2":48.9},{"x":-3.41,"x2":11.02,"y":97.7,"y2":97.7},{"x":-3.41,"x2":11.02,"y":148.4,"y2":148.4},{"x":-3.41,"x2":11.02,"y":198.6,"y2":198.6},{"x":-3.41,"x2":11.02,"y":248.9,"y2":248.9},
{"x":1.0,"x2":5.96,"y":-13,"y2":-13},{"x":1.0,"x2":1.0,"y":-13,"y2":-3.4},{"x":5.96,"x2":5.96,"y":-13,"y2":-3.4},{"x":3.48,"x2":3.48,"y":-22.4,"y2":-13},
{"x":6.02,"x2":10.97,"y":-13,"y2":-13},{"x":6.02,"x2":6.02,"y":-13,"y2":-3.4},{"x":10.97,"x2":10.97,"y":-13,"y2":-3.4},{"x":8.48,"x2":8.48,"y":-22.4,"y2":-13}
],
"names":[{"x":0.42,"n":"outcome"},{"x":1.41,"n":"Variable1"},{"x":2.41,"n":"Variable2"},{"x":3.41,"n":"Variable3"},{"x":4.41,"n":"Variable4"},{"x":5.41,"n":"Variable5"},{"x":6.41,"n":"Variable6"},{"x":7.41,"n":"Variable7"},{"x":8.41,"n":"Variable8"},{"x":9.41,"n":"Variable9"},{"x":10.41,"n":"Variable10"}],
"legendBoxes":[{"x0":2.957,"x1":3.65,"k":"a0"},{"x0":3.65,"x1":4.354,"k":"a1"},{"x0":6.138,"x1":6.83,"k":"0"},{"x0":6.83,"x1":7.517,"k":"1"},{"x0":7.517,"x1":8.221,"k":"2"}],
"legendFrames":[{"x0":2.957,"x1":4.354},{"x0":6.138,"x1":8.221}],
"legendLabels":[{"x":3.3,"t":"0"},{"x":4.0,"t":"1"},{"x":6.48,"t":"0"},{"x":7.17,"t":"1"},{"x":7.87,"t":"2"}],
"rowIds":[{"r":0,"id":244},{"r":2,"id":241},{"r":4,"id":265},{"r":6,"id":230},{"r":8,"id":286},{"r":10,"id":212},{"r":12,"id":258},{"r":14,"id":203},{"r":16,"id":272},{"r":18,"id":219},{"r":20,"id":247},{"r":22,"id":295},{"r":24,"id":226},{"r":26,"id":268},{"r":28,"id":208},{"r":30,"id":253},{"r":32,"id":279},{"r":34,"id":234},{"r":36,"id":216},{"r":38,"id":299},{"r":40,"id":261},{"r":42,"id":223},{"r":44,"id":274},{"r":46,"id":206},{"r":48,"id":250},{"r":50,"id":142},{"r":52,"id":118},{"r":54,"id":163},{"r":56,"id":105},{"r":58,"id":187},{"r":60,"id":131},{"r":62,"id":156},{"r":64,"id":112},{"r":66,"id":178},{"r":68,"id":149},{"r":70,"id":193},{"r":72,"id":124},{"r":74,"id":168},{"r":76,"id":101},{"r":78,"id":136},{"r":80,"id":182},{"r":82,"id":159},{"r":84,"id":127},{"r":86,"id":197},{"r":88,"id":115},{"r":90,"id":174},{"r":92,"id":146},{"r":94,"id":108},{"r":96,"id":189},{"r":98,"id":53},{"r":100,"id":82},{"r":102,"id":27},{"r":104,"id":64},{"r":106,"id":91},{"r":108,"id":38},{"r":110,"id":76},{"r":112,"id":12},{"r":114,"id":59},{"r":116,"id":95},{"r":118,"id":43},{"r":120,"id":70},{"r":122,"id":21},{"r":124,"id":86},{"r":126,"id":33},{"r":128,"id":67},{"r":130,"id":48},{"r":132,"id":98},{"r":134,"id":16},{"r":136,"id":74},{"r":138,"id":56},{"r":140,"id":89},{"r":142,"id":29},{"r":144,"id":61},{"r":146,"id":41},{"r":148,"id":79},{"r":150,"id":152},{"r":152,"id":121},{"r":154,"id":185},{"r":156,"id":103},{"r":158,"id":170},{"r":160,"id":139},{"r":162,"id":195},{"r":164,"id":110},{"r":166,"id":161},{"r":168,"id":129},{"r":170,"id":176},{"r":172,"id":143},{"r":174,"id":191},{"r":176,"id":117},{"r":178,"id":154},{"r":180,"id":133},{"r":182,"id":166},{"r":184,"id":107},{"r":186,"id":180},{"r":188,"id":148},{"r":190,"id":199},{"r":192,"id":125},{"r":194,"id":171},{"r":196,"id":137},{"r":198,"id":119},{"r":200,"id":72},{"r":202,"id":35},{"r":204,"id":93},{"r":206,"id":18},{"r":208,"id":50},{"r":210,"id":84},{"r":212,"id":24},{"r":214,"id":66},{"r":216,"id":45},{"r":218,"id":97},{"r":220,"id":31},{"r":222,"id":78},{"r":224,"id":10},{"r":226,"id":57},{"r":228,"id":88},{"r":230,"id":39},{"r":232,"id":69},{"r":234,"id":25},{"r":236,"id":92},{"r":238,"id":47},{"r":240,"id":81},{"r":242,"id":14},{"r":244,"id":62},{"r":246,"id":36},{"r":248,"id":75},{"r":250,"id":238},{"r":252,"id":282},{"r":254,"id":215},{"r":256,"id":263},{"r":258,"id":204},{"r":260,"id":290},{"r":262,"id":227},{"r":264,"id":256},{"r":266,"id":211},{"r":268,"id":277},{"r":270,"id":243},{"r":272,"id":298},{"r":274,"id":221},{"r":276,"id":269},{"r":278,"id":207},{"r":280,"id":251},{"r":282,"id":284},{"r":284,"id":232},{"r":286,"id":275},{"r":288,"id":218},{"r":290,"id":259},{"r":292,"id":201},{"r":294,"id":288},{"r":296,"id":246},{"r":298,"id":291}]
},
"layer":[
{"data":{"name":"cells"},"mark":{"type":"rect"},"encoding":{"x":{"field":"c","type":"quantitative","scale":{"domain":[-4.7376,12.664],"nice":false,"zero":false},"axis":null},"x2":{"field":"d"},"y":{"field":"a","type":"quantitative","scale":{"domain":[430.4,-43.6],"nice":false,"zero":false},"axis":null},"y2":{"field":"b"},"color":{"field":"k","type":"nominal","legend":null,"scale":{"domain":["a0","a1","0","1","2"],"range":["#1d1d1b","#dcdbd8","#ff0000","#ffa500","#ffffd4"]}}}},
{"data":{"values":[{"x0":0,"x1":1,"y0":0.6,"y1":299.4}]},"mark":{"type":"rect","fillOpacity":0,"stroke":"#000000","strokeWidth":4},"encoding":{"x":{"field":"x0","type":"quantitative"},"x2":{"field":"x1"},"y":{"field":"y0","type":"quantitative"},"y2":{"field":"y1"}}},
{"data":{"name":"lines"},"mark":{"type":"rule","color":"#000000","strokeWidth":2},"encoding":{"x":{"field":"x","type":"quantitative"},"x2":{"field":"x2"},"y":{"field":"y","type":"quantitative"},"y2":{"field":"y2"}}},
{"data":{"name":"names"},"mark":{"type":"text","angle":270,"align":"right","baseline":"middle","font":"Liberation Sans","fontSize":18,"color":"#000000"},"encoding":{"x":{"field":"x","type":"quantitative"},"y":{"datum":307.8,"type":"quantitative"},"text":{"field":"n"}}},
{"data":{"name":"rowIds"},"mark":{"type":"text","align":"center","baseline":"middle","font":"Liberation Sans","fontSize":9.5,"color":"#000000"},"encoding":{"x":{"datum":11.47,"type":"quantitative"},"y":{"field":"r","type":"quantitative"},"text":{"field":"id"}}},
{"data":{"values":[{"x":0.51,"y":-3.4,"t":"Response"}]},"mark":{"type":"text","angle":270,"align":"left","baseline":"middle","font":"Open Sans","fontSize":18,"color":"#000000"},"encoding":{"x":{"field":"x","type":"quantitative"},"y":{"field":"y","type":"quantitative"},"text":{"field":"t"}}},
{"data":{"values":[{"x":-4.134,"y":147.3,"t":"6 equally-sized clusters"}]},"mark":{"type":"text","angle":270,"align":"center","baseline":"middle","font":"Open Sans","fontSize":37,"color":"#000000"},"encoding":{"x":{"field":"x","type":"quantitative"},"y":{"field":"y","type":"quantitative"},"text":{"field":"t"}}},
{"data":{"values":[{"x":3.46,"y":-30.8,"t":"Relevant clustering structure"},{"x":8.56,"y":-30.8,"t":"Irrelevant clustering structure"}]},"mark":{"type":"text","align":"center","baseline":"middle","font":"Open Sans","fontSize":20,"color":"#000000"},"encoding":{"x":{"field":"x","type":"quantitative"},"y":{"field":"y","type":"quantitative"},"text":{"field":"t"}}},
{"data":{"name":"legendBoxes"},"mark":{"type":"rect"},"encoding":{"x":{"field":"x0","type":"quantitative"},"x2":{"field":"x1"},"y":{"datum":374.2,"type":"quantitative"},"y2":{"datum":395.1},"color":{"field":"k","type":"nominal"}}},
{"data":{"name":"legendFrames"},"mark":{"type":"rect","fillOpacity":0,"stroke":"#3c3c3c","strokeWidth":1},"encoding":{"x":{"field":"x0","type":"quantitative"},"x2":{"field":"x1"},"y":{"datum":374.2,"type":"quantitative"},"y2":{"datum":395.1}}},
{"data":{"name":"legendLabels"},"mark":{"type":"text","align":"center","baseline":"middle","font":"Liberation Sans","fontSize":17,"color":"#000000"},"encoding":{"x":{"field":"x","type":"quantitative"},"y":{"datum":400.8,"type":"quantitative"},"text":{"field":"t"}}}
]}
